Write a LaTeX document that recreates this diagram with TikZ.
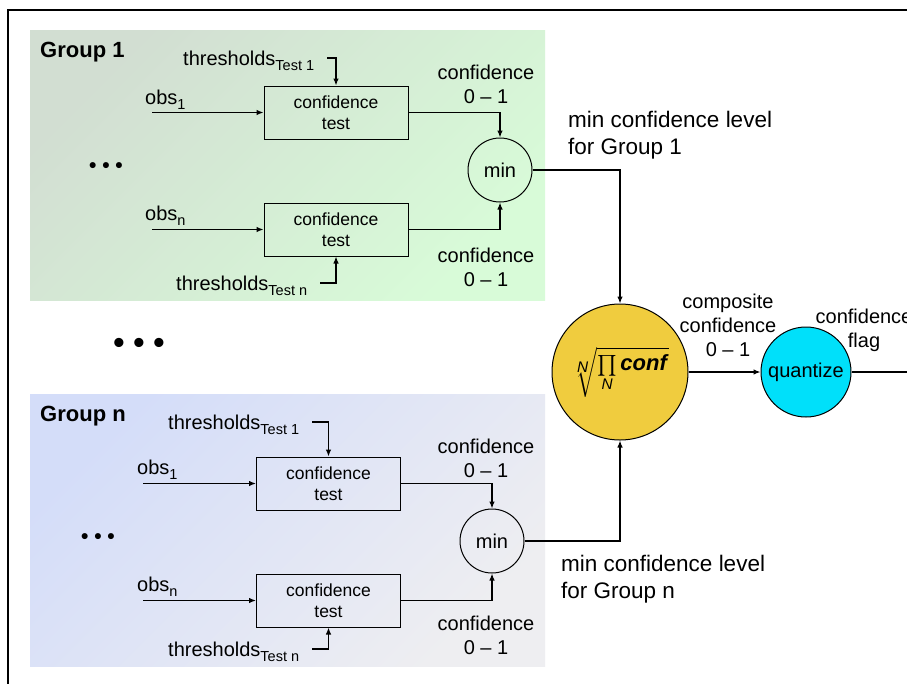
\documentclass[tikz,border=0pt]{standalone}
\usepackage{amsmath}
\usepackage{fontspec}
\setmainfont{Liberation Sans}
\usetikzlibrary{arrows.meta}
\definecolor{gA}{RGB}{210,222,210}
\definecolor{gB}{RGB}{216,251,216}
\definecolor{bA}{RGB}{212,221,249}
\definecolor{bB}{RGB}{238,238,241}
\definecolor{yel}{RGB}{240,204,62}
\definecolor{cyn}{RGB}{0,224,250}
\newcommand{\mysub}[1]{\raisebox{-0.28em}{\fontsize{14.5}{16}\selectfont #1}}
\begin{document}
\begin{tikzpicture}[x=1pt,y=-1pt,
  lbl/.style={font=\fontsize{20}{24}\selectfont, align=center, inner sep=0pt},
  biglbl/.style={font=\fontsize{22.5}{27}\selectfont, align=left, inner sep=0pt},
  grplbl/.style={font=\fontsize{22}{26}\selectfont\bfseries, inner sep=0pt},
  dotlbl/.style={font=\fontsize{#1}{#1}\selectfont\bfseries, inner sep=0pt},
  testbox/.style={draw, line width=1pt, minimum width=144pt, minimum height=53pt, align=center, font=\fontsize{17.5}{20.5}\selectfont, inner sep=0pt},
  mincirc/.style={draw, circle, line width=1pt, minimum size=64pt, inner sep=0pt, font=\fontsize{20}{24}\selectfont},
  bigcirc/.style={draw, circle, line width=1pt, inner sep=0pt},
  arr/.style={line width=1.2pt, -{Latex[length=7pt,width=5.5pt]}},
  ln/.style={line width=1.2pt},
]
\clip (0,0) rectangle (907,683);
\fill[white] (0,0) rectangle (907,683);
\draw[line width=2pt] (8,10) rectangle (980,720);

% backgrounds
\shade[top color=gA, bottom color=gB, shading angle=45] (30,30) rectangle (545,300);
\shade[top color=bA, bottom color=bB, shading angle=45] (30,394) rectangle (545,666);

% ---------- Group 1 ----------
\node[grplbl, anchor=base west] (g1) at (40,57) {Group 1};
\node[testbox] (b1) at (336,112.5) {confidence\\test};
\node[testbox] (b2) at (336,229.5) {confidence\\test};
\node[mincirc] (m1) at (500,170) {min};
\node[lbl, anchor=base west] (t1) at (183,65) {thresholds\mysub{Test 1}};
\node[lbl, anchor=base west] (t2) at (176,290) {thresholds\mysub{Test n}};
\node[lbl, anchor=base west] (o1) at (145,104) {obs\mysub{1}};
\node[lbl, anchor=base west] (o2) at (145,220) {obs\mysub{n}};
\node[lbl] (c1) at (486,84) {confidence\\0 – 1};
\node[lbl] (c2) at (486,267) {confidence\\0 – 1};
\node[dotlbl=21] (d1) at (106,168) {• • •};

\coordinate (o1s) at (152,112.5);
\coordinate (o2s) at (152,229.5);
\coordinate (t1e) at (327,58);
\coordinate (t2e) at (320,283);
\draw[arr] (o1s) -- (b1.west);
\draw[arr] (o2s) -- (b2.west);
\draw[arr] (t1e) -| (b1.north);
\draw[arr] (t2e) -| (b2.south);
\draw[arr] (b1.east) -| (m1.north);
\draw[arr] (b2.east) -| (m1.south);

% ---------- Group n ----------
\node[grplbl, anchor=base west] (g2) at (40,421) {Group n};
\node[testbox] (b3) at (328.5,483.5) {confidence\\test};
\node[testbox] (b4) at (328.5,600.5) {confidence\\test};
\node[mincirc] (m2) at (492,541) {min};
\node[lbl, anchor=base west] (t3) at (168,429) {thresholds\mysub{Test 1}};
\node[lbl, anchor=base west] (t4) at (168,656) {thresholds\mysub{Test n}};
\node[lbl, anchor=base west] (o3) at (137,474) {obs\mysub{1}};
\node[lbl, anchor=base west] (o4) at (137,591) {obs\mysub{n}};
\node[lbl] (c3) at (486,458.5) {confidence\\0 – 1};
\node[lbl] (c4) at (486,635) {confidence\\0 – 1};
\node[dotlbl=21] (d2) at (98,539) {• • •};

\coordinate (o3s) at (143,483.5);
\coordinate (o4s) at (143,600.5);
\coordinate (t3e) at (312,422);
\coordinate (t4e) at (312,649);
\draw[arr] (o3s) -- (b3.west);
\draw[arr] (o4s) -- (b4.west);
\draw[arr] (t3e) -| (b3.north);
\draw[arr] (t4e) -| (b4.south);
\draw[arr] (b3.east) -| (m2.north);
\draw[arr] (b4.east) -| (m2.south);

% ---------- combination ----------
\node[dotlbl=32] (d3) at (139,346) {• • •};
\node[bigcirc, fill=yel, minimum size=136pt, font=\fontsize{22}{26}\selectfont] (P) at (620,372)
  {$\sqrt[\scriptstyle\textit{N}]{\prod\limits_{\textit{N}}\textbf{\textit{conf}}}$};
\node[bigcirc, fill=cyn, minimum size=90pt, font=\fontsize{20}{24}\selectfont] (Q) at (806,372) {quantize};
\draw[arr] (m1.east) -| (P.north);
\draw[arr] (m2.east) -| (P.south);
\draw[arr] (P.east) -- (Q.west);
\coordinate (out) at (930,372);
\draw[ln] (Q.east) -- (out);

\node[biglbl, anchor=west] (ml1) at (568,135) {min confidence level\\for Group 1};
\node[biglbl, anchor=west] (ml2) at (561,579.5) {min confidence level\\for Group n};
\node[lbl] (comp) at (728,325) {composite\\confidence\\0 – 1};
\node[lbl] (flag) at (864,330) {confidence\\flag};
\end{tikzpicture}
\end{document}
